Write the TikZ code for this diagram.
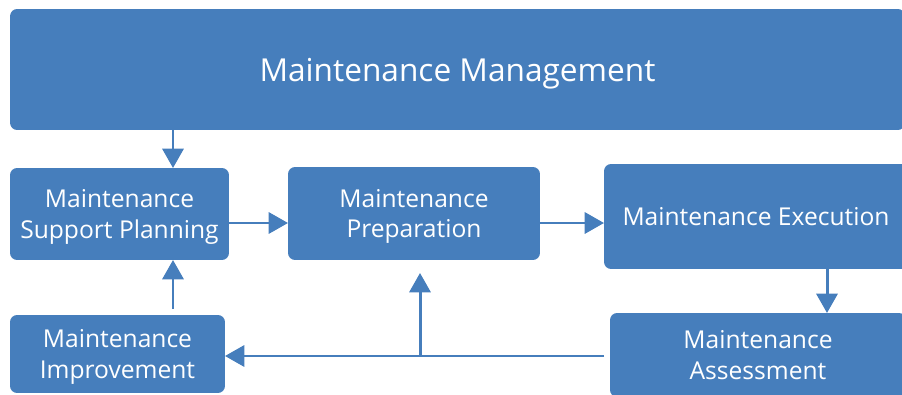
\documentclass[tikz,border=0pt]{standalone}
\usepackage{fontspec}
\setmainfont{Open Sans}
\usetikzlibrary{arrows.meta}

\definecolor{boxblue}{RGB}{70,126,188}

\begin{document}
\begin{tikzpicture}[x=0.02cm, y=-0.02cm,
    block/.style={rectangle, rounded corners=4pt, fill=boxblue, text=white,
        inner sep=0pt, outer sep=0pt, align=center, text depth=0pt,
        font=\fontsize{14}{17.5}\selectfont},
    flow/.style={draw=boxblue, line width=1.7pt,
        -{Triangle[width=12pt,length=11pt]}}]
    \useasboundingbox (0,0) rectangle (902,395);

    % the process boxes
    \node[block, minimum width=17.9cm, minimum height=2.42cm,
        font=\fontsize{18}{21}\selectfont] (Mgmt) at (457.5,69.5) {Maintenance Management};
    \node[block, minimum width=4.38cm, minimum height=1.84cm] (Plan) at (119.5,214) {Maintenance\\Support Planning};
    \node[block, minimum width=5.04cm, minimum height=1.86cm] (Prep) at (414,213.5) {Maintenance\\Preparation};
    \node[block, minimum width=6.08cm, minimum height=2.1cm] (Exec) at (756,216.5) {Maintenance Execution};
    \node[block, minimum width=5.92cm, minimum height=1.68cm] (Assess) at (758,355) {Maintenance\\Assessment};
    \node[block, minimum width=4.3cm, minimum height=1.56cm] (Impr) at (117.5,354) {Maintenance\\Improvement};

    % where the arrows run
    \coordinate (left) at (173,0);
    \coordinate (right) at (827,0);
    \coordinate (mid) at (0,223);
    \coordinate (back) at (0,356);
    \coordinate (fork) at (420,356);

    \draw[flow] (Mgmt.south -| left) -- (Plan.north -| left);
    \draw[flow] (Plan.east |- mid) -- (Prep.west |- mid);
    \draw[flow] (Prep.east |- mid) -- (Exec.west |- mid);
    \draw[flow] (Exec.south -| right) -- (Assess.north -| right);
    \draw[flow, shorten <=3.4pt] (Assess.west |- back) -- (Impr.east |- back);
    \draw[flow, shorten >=7.4pt] (fork) -- (Prep.south -| fork);
    \draw[flow, shorten <=3.4pt] (Impr.north -| left) -- (Plan.south -| left);
\end{tikzpicture}
\end{document}
